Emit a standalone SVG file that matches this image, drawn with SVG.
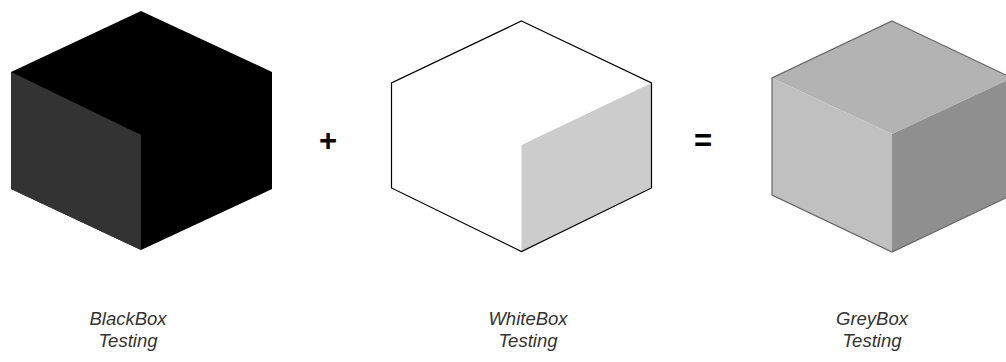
<svg xmlns="http://www.w3.org/2000/svg" width="1006" height="362" viewBox="0 0 1006 362">
<style>
.lbl{font-family:"Liberation Sans",Arial,sans-serif;font-size:18.5px;font-style:italic;fill:#333333;text-anchor:middle}
.op{font-family:"Liberation Sans",Arial,sans-serif;font-size:31px;font-weight:bold;fill:#000000;text-anchor:middle}
</style>
<rect width="1006" height="362" fill="#ffffff"/>
<g id="blackbox">
<polygon points="141,11 272,72 272,189 141,250 11,189 11,72" fill="#000000"/>
<polygon points="11,72 141,135 141,250 11,189" fill="#333333"/>
<text class="lbl" x="128" y="325">BlackBox</text>
<text class="lbl" x="128" y="347">Testing</text>
</g>
<g id="plus">
<text class="op" x="328" y="151">+</text>
</g>
<g id="whitebox">
<polygon points="521.5,145 651.5,83 651.5,188 521.5,251.5" fill="#cccccc"/>
<polygon points="521.5,21 651.5,83 651.5,188 521.5,251.5 391.5,188 391.5,83" fill="none" stroke="#000000" stroke-width="1.2"/>
<text class="lbl" x="528" y="325">WhiteBox</text>
<text class="lbl" x="528" y="347">Testing</text>
</g>
<g id="equals">
<text class="op" x="703" y="151">=</text>
</g>
<g id="greybox">
<polygon points="892,21 1012,78 892,134 772,78" fill="#b3b3b3"/>
<polygon points="772,78 892,134 892,252 772,195" fill="#c0c0c0"/>
<polygon points="892,134 1012,78 1012,195 892,252" fill="#8f8f8f"/>
<polygon points="892,21 1012,78 1012,195 892,252 772,195 772,78" fill="none" stroke="#666666" stroke-width="1.2"/>
<text class="lbl" x="872" y="325">GreyBox</text>
<text class="lbl" x="872" y="347">Testing</text>
</g>
<g id="connectors"></g>
</svg>
